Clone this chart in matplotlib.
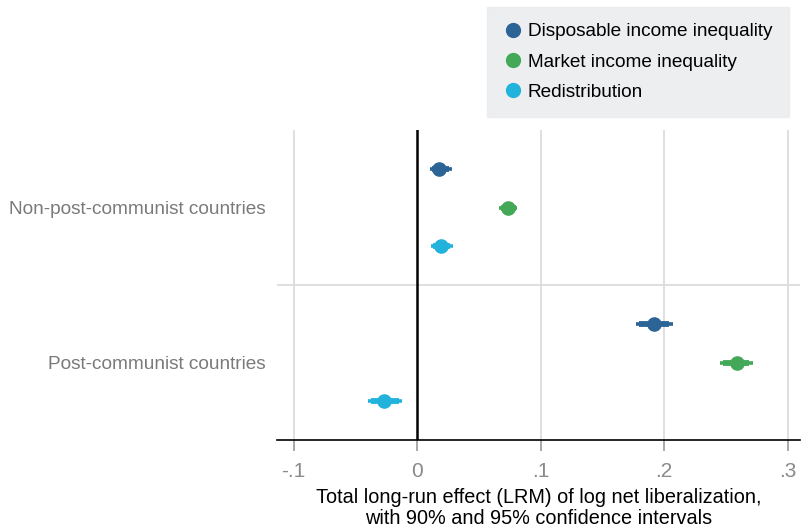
import numpy as np
import matplotlib.pyplot as plt

plt.rcParams['font.family'] = ['Liberation Sans', 'DejaVu Sans']

# ── Data ───────────────────────────────────────────────────────────────────────
groups = ["Non-post-communist countries", "Post-communist countries"]
series = ["Disposable income inequality", "Market income inequality", "Redistribution"]
colors = ["#2c6496", "#43a857", "#22b3dc"]

# point estimates: rows = group, cols = series
est   = [[0.018, 0.074, 0.019],
         [0.192, 0.259, -0.027]]
lo95  = [[0.0105, 0.066, 0.011],
         [0.177, 0.245, -0.040]]
hi95  = [[0.028, 0.081, 0.029],
         [0.207, 0.272, -0.012]]
lo90  = [[0.012, 0.068, 0.013],
         [0.180, 0.248, -0.037]]
hi90  = [[0.026, 0.080, 0.027],
         [0.204, 0.269, -0.015]]

xticks = [-0.1, 0, 0.1, 0.2, 0.3]
xticklabels = ["-.1", "0", ".1", ".2", ".3"]

# ── Plot ───────────────────────────────────────────────────────────────────────
fig = plt.figure(figsize=(8.01, 5.31), dpi=100)
ax = fig.add_axes([277 / 801, (531 - 440) / 531, 523 / 801, 310 / 531])

for g in range(len(groups)):
    for s in range(len(series)):
        y = g * 4 + s
        ax.plot([lo95[g][s], hi95[g][s]], [y, y], color=colors[s], lw=2.6,
                solid_capstyle="butt", zorder=3)
        ax.plot([lo90[g][s], hi90[g][s]], [y, y], color=colors[s], lw=4.2,
                solid_capstyle="butt", zorder=3)
        ax.plot(est[g][s], y, "o", color=colors[s], ms=9.5, zorder=4,
                label=series[s] if g == 0 else None)

ax.set_xlim(-0.1134, 0.310)
ax.set_ylim(7, -1)
ax.set_xticks(xticks)
ax.set_xticklabels(xticklabels)
ax.set_yticks([1, 5])
ax.set_yticklabels(groups)

for x in [-0.1, 0.1, 0.2, 0.3]:
    ax.axvline(x, color="#dcdcdc", lw=1.3, zorder=1)
ax.axvline(0, color="black", lw=1.8, zorder=2)
ax.axhline(3, color="#dcdcdc", lw=1.3, zorder=1)

for side in ["left", "right", "top"]:
    ax.spines[side].set_visible(False)
ax.spines["bottom"].set_color("black")
ax.spines["bottom"].set_linewidth(1.2)

ax.tick_params(axis="x", direction="out", length=8, width=1.2, color="#999999",
               labelcolor="#8a8a8a", labelsize=15, pad=8)
ax.tick_params(axis="y", length=0, labelcolor="#7a7a7a", labelsize=13.7, pad=8)

ax.set_xlabel("Total long-run effect (LRM) of log net liberalization,\n"
              "with 90% and 95% confidence intervals", fontsize=14.3,
              color="black", labelpad=5, linespacing=1.15)

leg = fig.legend(loc="upper left", bbox_to_anchor=(487 / 801, 1 - 7 / 531),
                 frameon=True, fontsize=13.7, handletextpad=0.3,
                 handlelength=1.0, borderpad=0.85, labelspacing=0.68,
                 borderaxespad=0, fancybox=False, markerscale=1.05)
leg.get_frame().set_facecolor("#e9eaeb")
leg.get_frame().set_edgecolor("#e9eaeb")

fig.savefig("out.png", dpi=100)
